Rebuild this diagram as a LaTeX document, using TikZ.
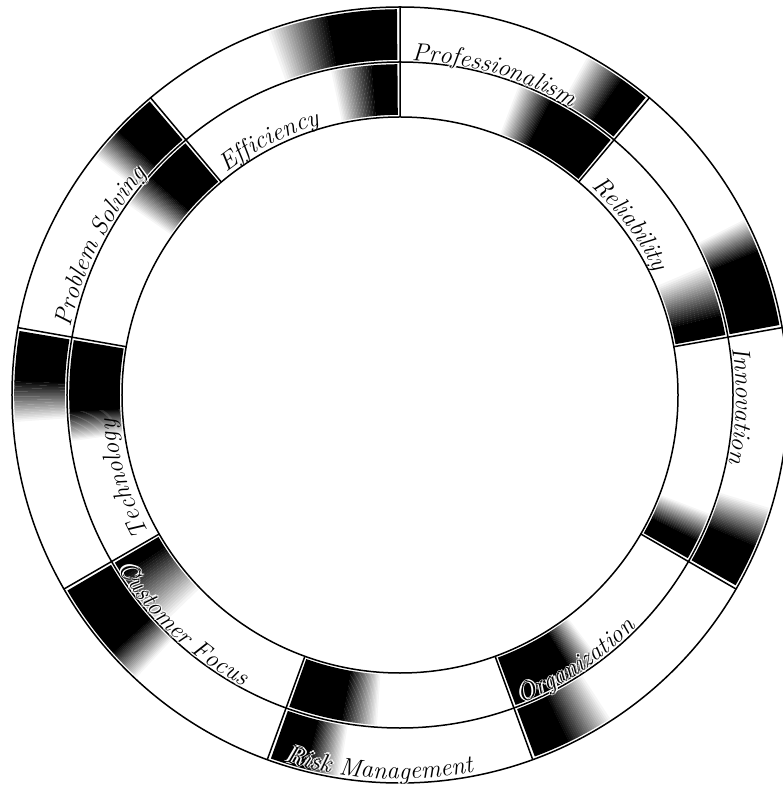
\documentclass[tikz,border=0pt]{standalone}
\usepackage{fontspec}
\usepackage{tikz}
\usetikzlibrary{decorations.text}
\newcommand{\lblfont}{\fontsize{25}{30}\selectfont\itshape}
\tikzset{
  ringline/.style = {draw=black, line width=1.5pt},
  spoke/.style    = {draw=black, line width=1.5pt}
}
\newcommand{\fadeblk}[5]{%
  \pgfmathsetmacro{\ra}{#2+2.2}\pgfmathsetmacro{\rb}{#3-2.2}
  \pgfmathsetmacro{\aa}{#1+0.45}\pgfmathsetmacro{\ab}{#1+#4}
  \fill[black] (\aa:\ra) arc[start angle=\aa, end angle=\ab, radius=\ra]
    -- (\ab:\rb) arc[start angle=\ab, end angle=\aa, radius=\rb] -- cycle;
  \foreach \k in {1,...,24}{
    \pgfmathsetmacro{\fa}{#1+#4+(#5-#4)*(\k-1)/24-0.05}
    \pgfmathsetmacro{\fb}{#1+#4+(#5-#4)*\k/24}
    \pgfmathtruncatemacro{\fg}{100-100*\k/25}
    \fill[black!\fg] (\fa:\ra) arc[start angle=\fa, end angle=\fb, radius=\ra]
      -- (\fb:\rb) arc[start angle=\fb, end angle=\fa, radius=\rb] -- cycle;
  }}
\newcommand{\ringtext}[4]{%
  \path[decorate, decoration={text along path, text color=black, text={|\lblfont|#4}}]
    (#2:#1) arc[start angle=#2, end angle=#3, radius=#1];}
\newcommand{\halotext}[4]{%
  \foreach \dr/\da in {1.6/0,-1.6/0,0/0.28,0/-0.28}{
    \pgfmathsetmacro{\tr}{#1+\dr}\pgfmathsetmacro{\ts}{#2+\da}\pgfmathsetmacro{\te}{#3+\da}
    \path[decorate, decoration={text along path, text color=white, text={|\lblfont|#4}}]
      (\ts:\tr) arc[start angle=\ts, end angle=\te, radius=\tr];
  }
  \ringtext{#1}{#2}{#3}{#4}}

\begin{document}
\begin{tikzpicture}[x=1pt, y=1pt]
\useasboundingbox (-400,-399) rectangle (383,395);
\coordinate (hub) at (0,0);

\fadeblk{90}{333}{388}{11}{20}
\fadeblk{90}{278}{333}{5}{12}
\fadeblk{50}{333}{388}{5}{11}
\fadeblk{50}{278}{333}{13}{19}
\fadeblk{10}{333}{388}{12}{17}
\fadeblk{10}{278}{333}{4}{13}
\fadeblk{-30}{333}{388}{7}{13}
\fadeblk{-30}{278}{333}{4}{9}
\fadeblk{-70}{333}{388}{6}{13}
\fadeblk{-70}{278}{333}{12}{17}
\fadeblk{-110}{333}{388}{6}{11}
\fadeblk{-110}{278}{333}{10}{16}
\fadeblk{210}{333}{388}{12}{17}
\fadeblk{210}{278}{333}{3}{14}
\fadeblk{170}{333}{388}{8}{14}
\fadeblk{170}{278}{333}{13}{18}
\fadeblk{130}{333}{388}{7}{12}
\fadeblk{130}{278}{333}{9}{15}

\draw[ringline] (hub) circle[radius=388];
\draw[ringline] (hub) circle[radius=333];
\draw[ringline] (hub) circle[radius=278];
\draw[spoke] (90:278) -- (90:388)  (50:278) -- (50:388)  (10:278) -- (10:388)
  (-30:278) -- (-30:388)  (-70:278) -- (-70:388)  (-110:278) -- (-110:388)
  (210:278) -- (210:388)  (170:278) -- (170:388)  (130:278) -- (130:388);

\halotext{335}{88}{40}{Professionalism}
\ringtext{283}{47.5}{5}{Reliability}
\ringtext{336}{8}{-30}{Innovation}
\halotext{331}{-68.5}{-20}{Organization}
\halotext{384}{252.5}{300}{Risk Management}
\halotext{331}{211.5}{260}{Customer Focus}
\ringtext{286}{209}{170}{Technology}
\halotext{336}{168.5}{125}{Problem Solving}
\ringtext{282}{128}{90}{Efficiency}
\end{tikzpicture}
\end{document}
